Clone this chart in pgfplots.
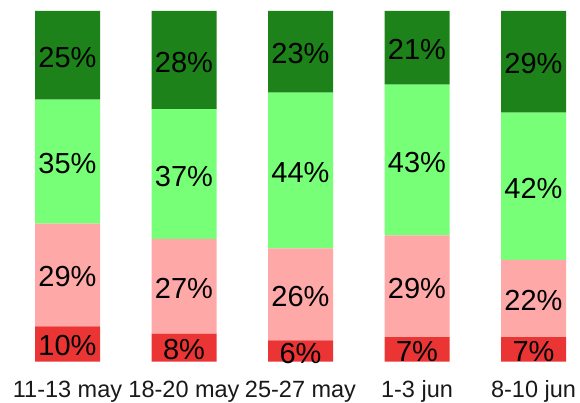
\documentclass[border=0pt]{standalone}
\usepackage{pgfplots}
\pgfplotsset{compat=1.18}
\usepackage{pgfplotstable}
\usepackage{fontspec}
\setmainfont{Liberation Sans}
\definecolor{cred}{HTML}{EB3535}
\definecolor{cpink}{HTML}{FFA8A8}
\definecolor{clgreen}{HTML}{78FF78}
\definecolor{cdgreen}{HTML}{1C8219}
% normalized heights (share of bar)
\pgfplotstableread{
x r p g d
0 10.10 29.29 35.35 25.26
1 8 27 37 28
2 6.06 26.26 44.44 23.24
3 7 29 43 21
4 7 22 42 29
}\datatable
% printed labels and their positions (middle of each segment)
\pgfplotstableread{
x r rl p pl g gl d dl
0 5.05 10 24.75 29 57.07 35 87.37 25
1 4.00 8 21.50 27 53.50 37 86.00 28
2 3.03 6 19.19 26 54.54 44 88.38 23
3 3.50 7 21.50 29 57.50 43 89.50 21
4 3.50 7 18.00 22 50.00 42 85.50 29
}\labeltable
\pgfplotsset{
  common/.style={
    scale only axis,
    width=580pt, height=350.7pt,
    xmin=-0.5794, xmax=4.3991,
    ymin=0, ymax=100,
    axis line style={draw=none},
    major tick length=0pt,
    ytick=\empty,
  }
}
\begin{document}
\begin{tikzpicture}
\begin{axis}[
  common,
  ybar stacked,
  bar width=65pt,
  xtick={0,1,2,3,4},
  xticklabels={11-13 may,18-20 may,25-27 may,1-3 jun,8-10 jun},
  xticklabel style={anchor=base, yshift=-36pt, font=\fontsize{23.5pt}{24pt}\selectfont, text=black!90},
]
\addplot[fill=cred, draw=none] table[x=x, y=r] {\datatable};
\addplot[fill=cpink, draw=none] table[x=x, y=p] {\datatable};
\addplot[fill=clgreen, draw=none] table[x=x, y=g] {\datatable};
\addplot[fill=cdgreen, draw=none] table[x=x, y=d] {\datatable};
\end{axis}
\begin{axis}[
  common,
  xtick=\empty,
  point meta=explicit,
  nodes near coords={\pgfmathprintnumber[assume math mode=true]{\pgfplotspointmeta}\%},
  every node near coord/.append style={anchor=center, font=\fontsize{29pt}{29pt}\selectfont, text=black, yshift=-2pt},
]
\addplot[draw=none, mark=none] table[x=x, y=r, meta=rl] {\labeltable};
\addplot[draw=none, mark=none] table[x=x, y=p, meta=pl] {\labeltable};
\addplot[draw=none, mark=none] table[x=x, y=g, meta=gl] {\labeltable};
\addplot[draw=none, mark=none] table[x=x, y=d, meta=dl] {\labeltable};
\end{axis}
\pgfresetboundingbox
\path[use as bounding box] ([yshift=-40.3pt]current axis.south west) rectangle ([yshift=11pt]current axis.north east);
\end{tikzpicture}
\end{document}
